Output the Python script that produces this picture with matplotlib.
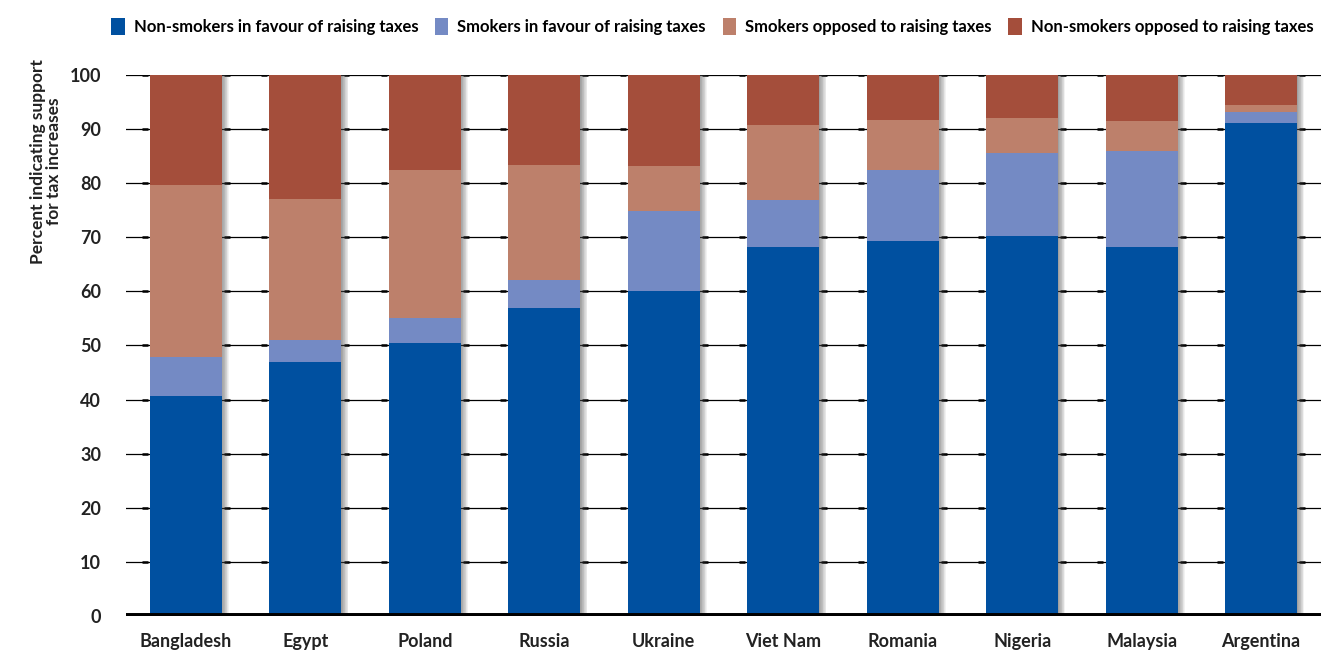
import matplotlib.pyplot as plt
import numpy as np

countries = ["Bangladesh", "Egypt", "Poland", "Russia", "Ukraine",
             "Viet Nam", "Romania", "Nigeria", "Malaysia", "Argentina"]
# cumulative tops
nonsmokers_favour = [40.7, 47.0, 50.5, 56.9, 60.1, 68.2, 69.3, 70.2, 68.2, 91.1]
smokers_favour_top = [47.9, 51.0, 55.1, 62.1, 74.9, 76.9, 82.4, 85.6, 86.0, 93.2]
smokers_opposed_top = [79.7, 77.1, 82.4, 83.4, 83.2, 90.8, 91.7, 92.1, 91.5, 94.5]
total = [100] * 10

labels = ["Non-smokers in favour of raising taxes",
          "Smokers in favour of raising taxes",
          "Smokers opposed to raising taxes",
          "Non-smokers opposed to raising taxes"]
colors = ["#0050A0", "#748AC4", "#BD806B", "#A44E3B"]

plt.rcParams["font.family"] = ["Lato", "DejaVu Sans"]

fig = plt.figure(figsize=(13.44, 6.52), dpi=100)
ax = fig.add_axes([0.0938, 0.0552, 0.889, 0.8298])

x = np.arange(len(countries))
width = 0.6

tops = [nonsmokers_favour, smokers_favour_top, smokers_opposed_top, total]
bottoms = [[0] * 10, nonsmokers_favour, smokers_favour_top, smokers_opposed_top]

# gridlines with short heavier dashes next to bars
for yv in range(10, 101, 10):
    ax.axhline(yv, color="black", lw=0.9, zorder=1)
    ax.hlines([yv] * 10, x - width / 2 - 0.07, x - width / 2 - 0.02,
              color="black", lw=1.8, zorder=1)
    ax.hlines([yv] * 10, x + width / 2 + 0.02, x + width / 2 + 0.07,
              color="black", lw=1.8, zorder=1)

# soft shadow on right side of bars
for k in range(10):
    off = 0.006 * (k + 1)
    ax.bar(x + off, total, width=width, color="#505050", alpha=0.07,
           zorder=2, linewidth=0)

for top, bot, c, lab in zip(tops, bottoms, colors, labels):
    h = np.array(top) - np.array(bot)
    ax.bar(x, h, bottom=bot, width=width, color=c, label=lab,
           zorder=3, linewidth=0)

ax.axhline(0, color="black", lw=5, zorder=4)

ax.set_xlim(-0.5, 9.5)
ax.set_ylim(0, 100)
ax.set_yticks(range(0, 101, 10))
ax.set_xticks(x)
ax.set_xticklabels(countries, fontsize=13, fontweight="bold", color="#222222")
ax.tick_params(axis="y", labelsize=13, length=0, pad=18, labelcolor="#222222")
ax.tick_params(axis="x", length=0, pad=12)
for t in ax.get_yticklabels():
    t.set_fontweight("bold")
for s in ax.spines.values():
    s.set_visible(False)

fig.text(0.034, 0.753, "Percent indicating support\nfor tax increases",
         rotation=90, ha="center", va="center", fontsize=12.5,
         fontweight="bold", color="#222222", linespacing=1.0)

handles, lbls = ax.get_legend_handles_labels()
fig.legend(handles, lbls, loc="center", bbox_to_anchor=(0.530, 0.959),
           ncol=4, frameon=False, handlelength=0.8,
           handleheight=1.2, handletextpad=0.55, columnspacing=1.0,
           prop={"weight": "bold", "size": 12})

fig.savefig("out.png", dpi=100)
